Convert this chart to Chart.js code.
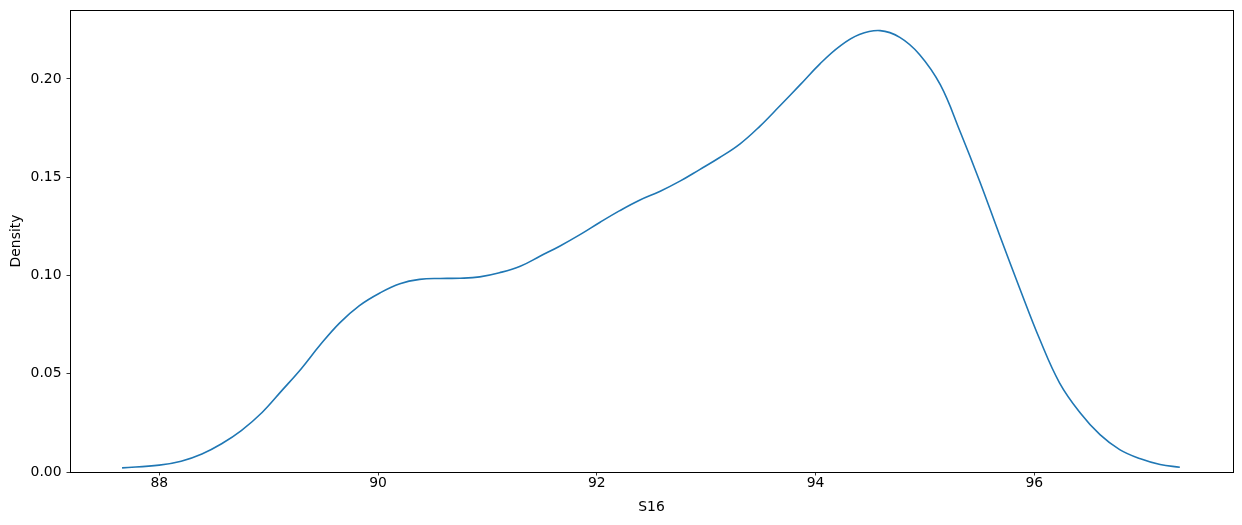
<!DOCTYPE html>
<html>
<head>
<meta charset="utf-8">
<script src="https://cdn.jsdelivr.net/npm/chart.js@4/dist/chart.umd.min.js"></script>
<style>
  html, body { margin: 0; padding: 0; background: #fff; }
  #wrap { width: 1242px; height: 525px; }
</style>
</head>
<body>
<div id="wrap"><canvas id="kdeChart" width="1242" height="525"></canvas></div>
<script>
// S16 values (x) and KDE density (y)
var s16 = [87.66, 88.00, 88.20, 88.39, 88.57, 88.75, 88.94, 89.12, 89.30, 89.47,
    89.65, 89.83, 90.02, 90.20, 90.38, 90.57, 90.75, 90.93, 91.11, 91.30, 91.48,
    91.66, 91.85, 92.03, 92.21, 92.39, 92.58, 92.76, 92.94, 93.12, 93.31, 93.49,
    93.67, 93.86, 94.04, 94.22, 94.40, 94.59, 94.77, 94.95, 95.14, 95.32, 95.50,
    95.68, 95.87, 96.05, 96.23, 96.42, 96.60, 96.78, 96.97, 97.15, 97.33];
var density = [0.0021, 0.0035, 0.0055, 0.0092, 0.0144, 0.0211, 0.0303, 0.0414,
    0.0527, 0.0646, 0.0759, 0.0847, 0.0912, 0.0958, 0.0980, 0.0985, 0.0986, 0.0993,
    0.1014, 0.1047, 0.1098, 0.1149, 0.1209, 0.1271, 0.1330, 0.1383, 0.1429, 0.1480,
    0.1539, 0.1599, 0.1670, 0.1759, 0.1861, 0.1971, 0.2077, 0.2166, 0.2226, 0.2246,
    0.2212, 0.2125, 0.1971, 0.1734, 0.1480, 0.1209, 0.0929, 0.0674, 0.0454, 0.0300,
    0.0190, 0.0114, 0.0067, 0.0038, 0.0024];
var xTicks = [88, 90, 92, 94, 96];
var yTicks = [0, 0.05, 0.10, 0.15, 0.20];

var points = s16.map(function (v, i) { return { x: v, y: density[i] }; });

// black frame around the plot area, like matplotlib spines
var frame = {
    id: 'frame',
    afterDraw: function (chart) {
        var a = chart.chartArea, c = chart.ctx;
        c.save();
        c.strokeStyle = '#000';
        c.lineWidth = 1;
        c.strokeRect(Math.round(a.left) + 0.5, Math.round(a.top) + 0.5,
            Math.round(a.right - a.left), Math.round(a.bottom - a.top));
        c.restore();
    }
};

var font = { family: 'DejaVu Sans', size: 13.9 };

var ctx = document.getElementById('kdeChart').getContext('2d');
var myChart = new Chart(ctx, {
    type: 'line',
    data: {
        datasets: [{
            label: 'S16',
            data: points,
            borderColor: '#1f77b4',
            borderWidth: 1.6,
            pointRadius: 0,
            tension: 0.4,
            fill: false
        }]
    },
    options: {
        responsive: false,
        animation: false,
        layout: { padding: { top: 10, right: 9, left: 0, bottom: 0 } },
        plugins: { legend: { display: false }, tooltip: { enabled: false } },
        scales: {
            x: {
                type: 'linear',
                min: 87.184,
                max: 97.816,
                afterBuildTicks: function (axis) {
                    axis.ticks = xTicks.map(function (v) { return { value: v }; });
                },
                afterFit: function (axis) {
                    axis.height = 53;
                    axis.paddingLeft = 0;
                    axis.paddingRight = 0;
                },
                grid: { drawOnChartArea: false, drawTicks: true, tickLength: 3.5, color: '#000', lineWidth: 0.8 },
                border: { display: false },
                ticks: { color: '#000', font: font, padding: -0.5, maxRotation: 0 },
                title: { display: true, text: 'S16', color: '#000', font: font, padding: { top: 0, bottom: 9 } }
            },
            y: {
                min: 0,
                max: 0.2351,
                afterBuildTicks: function (axis) {
                    axis.ticks = yTicks.map(function (v) { return { value: v }; });
                },
                afterFit: function (axis) {
                    axis.width = 70;
                    axis.paddingTop = 0;
                    axis.paddingBottom = 0;
                },
                grid: { drawOnChartArea: false, drawTicks: true, tickLength: 3.5, color: '#000', lineWidth: 0.8 },
                border: { display: false },
                ticks: {
                    color: '#000', font: font, padding: 5,
                    callback: function (v) { return v.toFixed(2); }
                },
                title: { display: true, text: 'Density', color: '#000', font: font, padding: { top: 8.5, bottom: 0 } }
            }
        }
    },
    plugins: [frame]
});
</script>
</body>
</html>
